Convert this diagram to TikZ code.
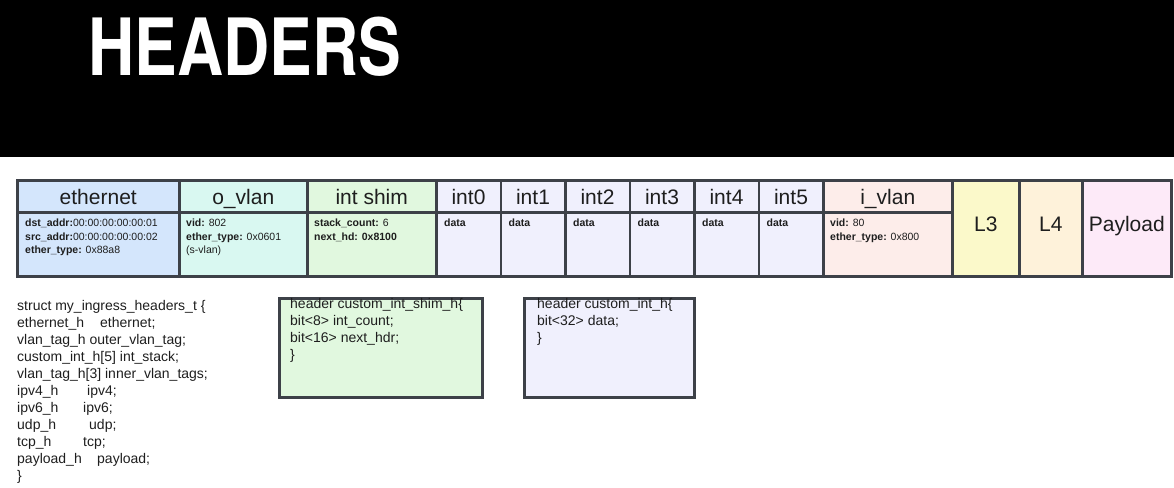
\documentclass[tikz,border=0pt]{standalone}
\usepackage{fontspec}
\setmainfont{Liberation Sans}
\newfontfamily\titlefont[FakeStretch=0.81]{TeX Gyre Heros}

\definecolor{gridline}{HTML}{3D4148}
\definecolor{inkgray}{HTML}{1E1E1E}
\definecolor{ethfill}{HTML}{D4E6FC}
\definecolor{ovlanfill}{HTML}{D9F8F1}
\definecolor{shimfill}{HTML}{E1F8DF}
\definecolor{intfill}{HTML}{F0F0FD}
\definecolor{ivlanfill}{HTML}{FDEDEA}
\definecolor{lthreefill}{HTML}{FBF9CA}
\definecolor{lfourfill}{HTML}{FEF2DA}
\definecolor{payfill}{HTML}{FDEAF8}

\begin{document}
\begin{tikzpicture}[x=1pt,y=-1pt]
  \tikzset{
    hdcell/.style={draw=gridline,line width=2.5pt,inner sep=0pt,anchor=north west,
      text=inkgray,font=\fontsize{21}{24}\selectfont},
    toprow/.style={hdcell,minimum height=32pt,text height=18pt,text depth=1pt},
    botrow/.style={hdcell,minimum height=64pt},
    fullrow/.style={hdcell,minimum height=96pt,text height=15pt,text depth=9pt},
    fieldtxt/.style={anchor=north west,inner sep=0pt,align=left,text=inkgray,
      font=\fontsize{10.5}{13.3}\selectfont},
    codebox/.style={draw=gridline,line width=2.5pt,anchor=north west,inner sep=0pt,
      minimum height=99pt},
    codetxt/.style={anchor=north west,inner sep=0pt,align=left,text=inkgray,
      font=\fontsize{14}{17}\selectfont}
  }
  \useasboundingbox (0,0) rectangle (1174,487);

  % title bar
  \fill[black] (0,0) rectangle (1174,157);
  \node[anchor=base west,inner sep=0pt,text=white,
        font=\titlefont\bfseries\fontsize{79}{80}\selectfont] (title) at (88,75) {HEADERS};

  % header names
  \node[toprow,fill=ethfill,minimum width=162pt] (eth) at (16,179) {ethernet};
  \node[toprow,fill=ovlanfill,minimum width=128pt] (ovlan) at (178,179) {o\_vlan};
  \node[toprow,fill=shimfill,minimum width=129pt] (shim) at (306,179) {int shim};
  \foreach \i in {0,...,5}{
    \node[toprow,fill=intfill,minimum width=64.5pt] (int\i) at (435+64.5*\i,179) {int\i};
    \node[botrow,fill=intfill,minimum width=64.5pt] (intb\i) at (435+64.5*\i,211) {};
    \node[fieldtxt,font=\fontsize{10.5}{13.3}\selectfont\bfseries] (intd\i)
      at ([xshift=9pt,yshift=-8pt]intb\i.north west) {data};
  }
  \node[toprow,fill=ivlanfill,minimum width=129pt] (ivlan) at (822,179) {i\_vlan};
  \node[fullrow,fill=lthreefill,minimum width=67pt] (lthree) at (951,179) {L3};
  \node[fullrow,fill=lfourfill,minimum width=63pt] (lfour) at (1018,179) {L4};
  \node[fullrow,fill=payfill,minimum width=89pt] (pay) at (1081,179) {Payload};

  % field rows
  \node[botrow,fill=ethfill,minimum width=162pt] (ethb) at (16,211) {};
  \node[botrow,fill=ovlanfill,minimum width=128pt] (ovlanb) at (178,211) {};
  \node[botrow,fill=shimfill,minimum width=129pt] (shimb) at (306,211) {};
  \node[botrow,fill=ivlanfill,minimum width=129pt] (ivlanb) at (822,211) {};

  \node[fieldtxt] (ethd) at ([xshift=9pt,yshift=-8pt]ethb.north west)
    {\textbf{dst\_addr:}00:00:00:00:00:01\\\textbf{src\_addr:}00:00:00:00:00:02\\\textbf{ether\_type:} 0x88a8};
  \node[fieldtxt] (ovland) at ([xshift=8pt,yshift=-8pt]ovlanb.north west)
    {\textbf{vid:} 802\\\textbf{ether\_type:} 0x0601\\(s-vlan)};
  \node[fieldtxt] (shimd) at ([xshift=8pt,yshift=-8pt]shimb.north west)
    {\textbf{stack\_count:} 6\\\textbf{next\_hd: 0x8100}};
  \node[fieldtxt] (ivland) at ([xshift=8pt,yshift=-8pt]ivlanb.north west)
    {\textbf{vid:} 80\\\textbf{ether\_type:} 0x800};

  % struct listing
  \node[codetxt] (struct) at (17,300) {struct my\_ingress\_headers\_t \{\\
    \makebox[83pt][l]{ethernet\_h}ethernet;\\
    vlan\_tag\_h outer\_vlan\_tag;\\
    custom\_int\_h[5] int\_stack;\\
    vlan\_tag\_h[3] inner\_vlan\_tags;\\
    \makebox[70pt][l]{ipv4\_h}ipv4;\\
    \makebox[66pt][l]{ipv6\_h}ipv6;\\
    \makebox[72pt][l]{udp\_h}udp;\\
    \makebox[66pt][l]{tcp\_h}tcp;\\
    \makebox[80pt][l]{payload\_h}payload;\\
    \}};

  % header definitions
  \node[codebox,fill=shimfill,minimum width=203pt] (shimdef) at (278,297) {};
  \node[codetxt] (shimcode) at ([xshift=12pt,yshift=-1pt]shimdef.north west)
    {header custom\_int\_shim\_h\{\\bit<8> int\_count;\\bit<16> next\_hdr;\\\}};
  \node[codebox,fill=intfill,minimum width=170pt] (intdef) at (523,297) {};
  \node[codetxt] (intcode) at ([xshift=14pt,yshift=-1pt]intdef.north west)
    {header custom\_int\_h\{\\bit<32> data;\\\}};
\end{tikzpicture}
\end{document}
